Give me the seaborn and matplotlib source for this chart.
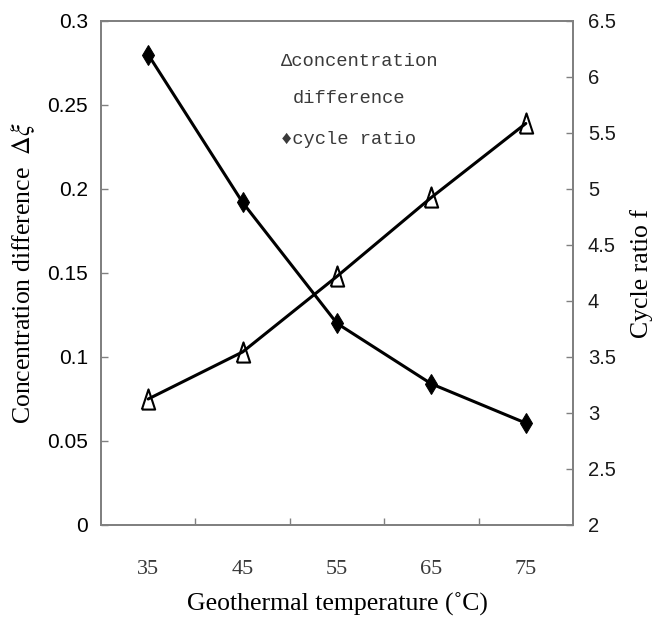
import matplotlib
matplotlib.use('Agg')
import matplotlib.pyplot as plt
import seaborn as sns
import pandas as pd
from matplotlib.ticker import FixedLocator, FixedFormatter

# ---- data ----
temperatures = ['35', '45', '55', '65', '75']
concentration_difference = [0.075, 0.103, 0.148, 0.195, 0.239]
cycle_ratio = [6.20, 4.88, 3.80, 3.26, 2.91]
left_ticks = [0, 0.05, 0.1, 0.15, 0.2, 0.25, 0.3]
left_labels = ['0', '0.05', '0.1', '0.15', '0.2', '0.25', '0.3']
right_ticks = [2, 2.5, 3, 3.5, 4, 4.5, 5, 5.5, 6, 6.5]
right_labels = ['2', '2.5', '3', '3.5', '4', '4.5', '5', '5.5', '6', '6.5']

sns.set_theme(style='white')
plt.rcParams['font.family'] = ['Liberation Serif', 'DejaVu Serif']
plt.rcParams['mathtext.fontset'] = 'stix'

df = pd.DataFrame({'temperature': temperatures,
                   'conc': concentration_difference,
                   'ratio': cycle_ratio})

W, H = 664, 621
fig = plt.figure(figsize=(W / 100, H / 100), dpi=100)
ax = fig.add_axes([101 / W, 1 - 525 / H, 472 / W, 504 / H])
ax2 = ax.twinx()

tall_triangle = [(-0.33, -0.5), (0.33, -0.5), (0.0, 0.5), (-0.33, -0.5)]
sns.lineplot(data=df, x='temperature', y='conc', ax=ax, color='black',
             linewidth=2.2, marker=tall_triangle, markersize=14.5,
             markerfacecolor='none', markeredgecolor='black',
             markeredgewidth=1.5, sort=False)
sns.lineplot(data=df, x='temperature', y='ratio', ax=ax2, color='black',
             linewidth=2.2, marker='d', markersize=10.5, markerfacecolor='black',
             markeredgecolor='black', sort=False)

spine_col = '#808080'
for a in (ax, ax2):
    for s in a.spines.values():
        s.set_color(spine_col)
        s.set_linewidth(1.3)
        s.set_visible(True)

ax.set_xlim(-0.5, len(temperatures) - 0.5)
ax.xaxis.set_major_locator(FixedLocator(list(range(len(temperatures)))))
ax.xaxis.set_major_formatter(FixedFormatter(temperatures))
ax.xaxis.set_minor_locator(FixedLocator([i + 0.5 for i in range(len(temperatures) - 1)]))
ax.tick_params(axis='x', which='major', length=0, pad=25, labelsize=16,
               labelcolor='#3a3a3a')
ax.tick_params(axis='x', which='minor', direction='in', length=5, width=1,
               color=spine_col, bottom=True)

sans = ['Liberation Sans', 'DejaVu Sans']
ax.set_ylim(0, 0.3)
ax.set_yticks(left_ticks)
ax.set_yticklabels(left_labels, fontfamily=sans, fontsize=15)
ax.tick_params(axis='y', which='major', direction='in', length=5, width=1,
               color=spine_col, pad=9.4, left=True, labelcolor='black')

ax2.set_ylim(2, 6.5)
ax2.set_yticks(right_ticks)
ax2.set_yticklabels(right_labels, fontfamily=sans, fontsize=14.5)
ax2.tick_params(axis='y', which='major', direction='in', length=5, width=1,
                color=spine_col, pad=10.8, right=True, labelcolor='#1a1a1a')

ax.set_xlabel('Geothermal temperature (˚C)', fontsize=18.5, color='black')
ax.xaxis.set_label_coords(0.5, -0.135)
ax.xaxis.label.set_verticalalignment('top')
ax.set_ylabel('Concentration difference  $\\Delta\\xi$', fontsize=18.5, color='black')
ax.yaxis.set_label_coords(-0.135, 0.5)
ax2.set_ylabel('Cycle ratio f', fontsize=18.5, color='black')
ax2.yaxis.set_label_coords(1.121, 0.5)

mono = ['Liberation Mono', 'DejaVu Sans Mono']
leg_col = '#3a3a3a'
ax.text(0.382, 0.919, '\u0394concentration', transform=ax.transAxes,
        family=mono, fontsize=13.5, color=leg_col, va='center', ha='left')
ax.text(0.407, 0.847, 'difference', transform=ax.transAxes,
        family=mono, fontsize=13.5, color=leg_col, va='center', ha='left')
ax.text(0.382, 0.764, '\u2666cycle ratio', transform=ax.transAxes,
        family=mono, fontsize=13.5, color=leg_col, va='center', ha='left')

fig.savefig('out.png', dpi=100)
